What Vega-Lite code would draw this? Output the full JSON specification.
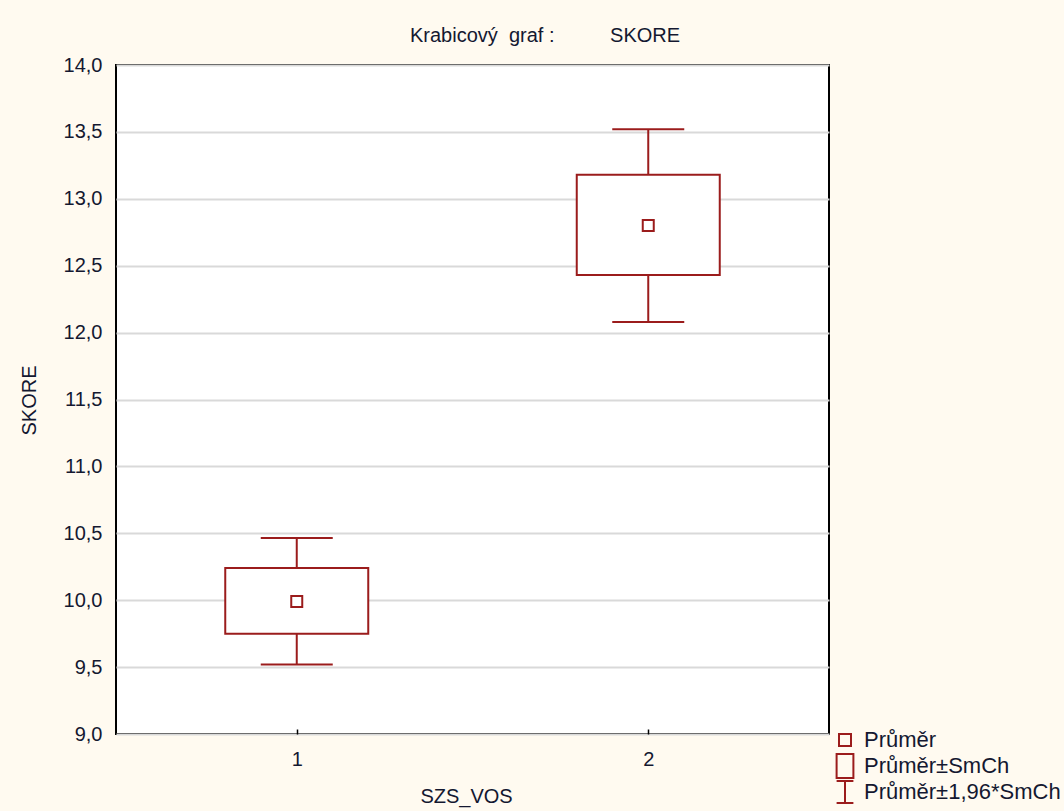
{
  "$schema": "https://vega.github.io/schema/vega-lite/v6.json",
  "autosize": {"type": "none"},
  "width": 713,
  "height": 669,
  "padding": {"left": 116, "top": 65, "right": 235, "bottom": 77},
  "background": "#fffaf0",
  "config": {
    "font": "Liberation Sans",
    "view": {"fill": "white", "stroke": "#000000", "strokeWidth": 2},
    "axis": {"labelFont": "Liberation Sans", "titleFont": "Liberation Sans", "labelColor": "#141830", "titleColor": "#141830", "labelFontSize": 20, "titleFontSize": 20, "titleFontWeight": "normal", "domain": false}
  },
  "title": {
    "text": "Krabicový\u00a0 graf :\u00a0\u00a0\u00a0\u00a0\u00a0\u00a0\u00a0\u00a0\u00a0 SKORE",
    "anchor": "start",
    "frame": "group",
    "dx": 294,
    "dy": 27,
    "offset": 20,
    "baseline": "alphabetic",
    "font": "Liberation Sans",
    "fontSize": 20,
    "fontWeight": "normal",
    "color": "#141830"
  },
  "data": {
    "values": [
      {"grp": 1, "mean": 9.99, "se_lo": 9.75, "se_hi": 10.24, "ci_lo": 9.52, "ci_hi": 10.465},
      {"grp": 2, "mean": 12.80, "se_lo": 12.43, "se_hi": 13.18, "ci_lo": 12.08, "ci_hi": 13.52}
    ]
  },
  "encoding": {
    "x": {
      "field": "grp",
      "type": "quantitative",
      "scale": {"domain": [0.5, 2.5], "nice": false, "zero": false},
      "axis": {"values": [1, 2], "grid": false, "ticks": true, "tickSize": -5, "tickColor": "#000000", "tickWidth": 1.5, "labelPadding": 20, "title": "SZS_VOS", "titleX": 350, "titleY": 52, "titleAnchor": null, "labelFlush": false}
    }
  },
  "layer": [
    {
      "mark": {"type": "rule", "color": "#9b1c1c", "strokeWidth": 2},
      "encoding": {
        "y": {
          "field": "ci_lo",
          "type": "quantitative",
          "scale": {"domain": [9, 14], "nice": false, "zero": false},
          "axis": {"values": [9, 9.5, 10, 10.5, 11, 11.5, 12, 12.5, 13, 13.5, 14], "labelExpr": "replace(format(datum.value, '.1f'), '.', ',')", "grid": true, "gridColor": "#d9d9d9", "gridWidth": 2, "ticks": false, "labelPadding": 14, "title": "SKORE", "titleX": -87, "titleY": 335, "titleAngle": -90, "titleBaseline": "middle", "titleAlign": "center"}
        },
        "y2": {"field": "ci_hi"}
      }
    },
    {
      "mark": {"type": "point", "shape": "M-1,0H1", "size": 5184, "filled": false, "strokeWidth": 2, "color": "#9b1c1c", "opacity": 1},
      "encoding": {"y": {"field": "ci_lo", "type": "quantitative"}}
    },
    {
      "mark": {"type": "point", "shape": "M-1,0H1", "size": 5184, "filled": false, "strokeWidth": 2, "color": "#9b1c1c", "opacity": 1},
      "encoding": {"y": {"field": "ci_hi", "type": "quantitative"}}
    },
    {
      "mark": {"type": "bar", "size": 143, "fill": "white", "stroke": "#9b1c1c", "strokeWidth": 2},
      "encoding": {
        "y": {"field": "se_lo", "type": "quantitative"},
        "y2": {"field": "se_hi"}
      }
    },
    {
      "mark": {"type": "point", "filled": false, "size": 484, "strokeWidth": 2, "color": "#9b1c1c", "opacity": 1},
      "encoding": {
        "y": {"field": "mean", "type": "quantitative"},
        "shape": {
          "datum": "Průměr",
          "scale": {
            "domain": ["Průměr", "Průměr±SmCh", "Průměr±1,96*SmCh"],
            "range": ["M-0.5,-0.5H0.5V0.5H-0.5Z", "M-0.7,-1H0.7V1H-0.7Z", "M-0.7,-0.92H0.7M0,-0.92V0.92M-0.7,0.92H0.7"]
          },
          "legend": {
            "title": null,
            "orient": "none",
            "legendX": 716,
            "legendY": 662,
            "symbolSize": 576,
            "symbolStrokeColor": "#9b1c1c",
            "symbolFillColor": "transparent",
            "symbolStrokeWidth": 2,
            "symbolOpacity": 1,
            "labelFont": "Liberation Sans",
            "labelFontSize": 22,
            "labelColor": "#141830",
            "labelOffset": 6,
            "rowPadding": 0,
            "clipHeight": 26,
            "padding": 0,
            "labelLimit": 400
          }
        }
      }
    }
  ]
}
